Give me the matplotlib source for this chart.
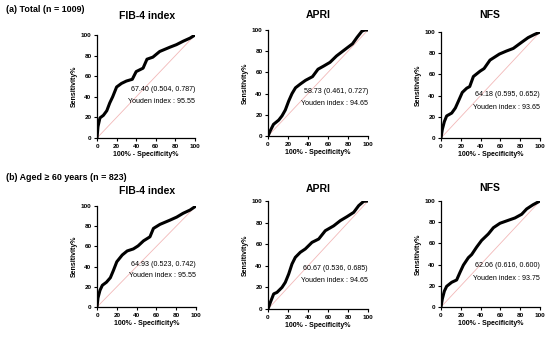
import matplotlib
matplotlib.use("Agg")
import matplotlib.pyplot as plt

plt.rcParams['font.family'] = ['Liberation Sans', 'DejaVu Sans']

# ---------------- data ----------------
fib4_total_x = [0, 1, 3, 6.5, 10, 13, 16, 20, 25, 30, 36, 40, 47, 51, 57, 64, 74.5, 81, 88, 95, 100]
fib4_total_y = [0, 11, 19.5, 22, 26.5, 34, 40, 49.5, 53, 55.3, 57, 64.5, 67.8, 76.5, 78.5, 84, 88.2, 90.6, 94, 97, 100]

apri_total_x = [0, 2.3, 5.5, 10.7, 14, 17.3, 20.7, 24, 27.5, 32.3, 37.5, 44.5, 50, 55.7, 62, 68.5, 77.5, 84.5, 89, 94, 97, 100]
apri_total_y = [0, 5, 11, 15, 19, 24.5, 33, 40, 45.5, 49, 52.5, 56, 63, 66, 69.5, 75.5, 82, 87, 93, 99, 100, 100]

nfs_total_x = [0, 1.3, 3.4, 5.7, 10.8, 14.5, 17.8, 21.5, 26, 29, 32.7, 39.4, 43.5, 49.5, 59, 66, 73, 81, 88, 94, 100]
nfs_total_y = [0, 8, 15.5, 20.8, 23.5, 28.3, 35.2, 43, 47, 48.5, 58, 63, 65.5, 73.5, 79.2, 82, 84.5, 90, 94.7, 97.5, 100]

fib4_aged_x = [0, 1, 3, 5.4, 9.5, 13.5, 16.5, 20, 25.5, 30.5, 36.7, 41.5, 47, 53.5, 57, 63.6, 73.7, 80.5, 87, 94, 100]
fib4_aged_y = [0, 9, 16.5, 21.5, 24.5, 29, 36, 44.8, 51.5, 55.5, 57.5, 60.5, 65.5, 69.5, 77.8, 81.8, 86, 89, 92.8, 96, 100]

apri_aged_x = [0, 2.3, 5.7, 9, 14, 17.3, 20.7, 24, 27.3, 32.3, 37.3, 44, 50.7, 57.3, 65.7, 72.3, 79, 85.7, 90.7, 95.7, 100]
apri_aged_y = [0, 6, 14, 15.4, 20, 24.7, 32.4, 41.7, 47.8, 52.5, 55.6, 61.7, 64.8, 72.5, 77, 81.8, 85.5, 89.5, 95.7, 99.7, 100]

nfs_aged_x = [0, 1.3, 3.4, 5.7, 10.8, 15.8, 19.2, 22.6, 27.6, 31, 36, 41, 47.8, 52.9, 59.6, 68, 74.7, 81.5, 86.5, 93, 100]
nfs_aged_y = [0, 7.5, 15, 19.5, 23.3, 25.5, 32.7, 39.5, 46.5, 49.5, 56.5, 62.8, 68.9, 74.8, 79, 81.8, 84, 87.5, 92.5, 96.5, 100]

panel_titles = ["FIB-4 index", "APRI", "NFS", "FIB-4 index", "APRI", "NFS"]
panel_auc = ["67.40 (0.504, 0.787)", "58.73 (0.461, 0.727)", "64.18 (0.595, 0.652)",
             "64.93 (0.523, 0.742)", "60.67 (0.536, 0.685)", "62.06 (0.616, 0.600)"]
panel_youden = ["Youden index : 95.55", "Youden index : 94.65", "Youden index : 93.65",
                "Youden index : 95.55", "Youden index : 94.65", "Youden index : 93.75"]
row_labels = ["(a) Total (n = 1009)", "(b) Aged \u2265 60 years (n = 823)"]
ticks = [0, 20, 40, 60, 80, 100]

curves = [(fib4_total_x, fib4_total_y), (apri_total_x, apri_total_y), (nfs_total_x, nfs_total_y),
          (fib4_aged_x, fib4_aged_y), (apri_aged_x, apri_aged_y), (nfs_aged_x, nfs_aged_y)]

# ---------------- layout (pixels) ----------------
W, H = 550, 338
boxes = [(97, 195, 35, 138), (268, 368, 30, 136), (441, 540, 32, 138),
         (97, 196, 206, 307), (268, 368, 201, 309), (441, 540, 201, 307)]
title_pos = [(147, 16), (318, 15), (490, 15), (147, 191), (318, 189), (490, 188)]
text_y = [(47.3, 35.2), (41.8, 30.2), (40.6, 29), (41.6, 30.7), (37.7, 26.2), (39.6, 27)]

fig = plt.figure(figsize=(W / 100, H / 100), dpi=100)

for i, (l, r, t, b) in enumerate(boxes):
    ax = fig.add_axes([l / W, 1 - b / H, (r - l) / W, (b - t) / H])
    x, y = curves[i]
    ax.plot([0, 100], [0, 100], color='#f2b8b8', lw=0.6, zorder=1)
    ax.plot(x, y, color='black', lw=2.2, solid_joinstyle='round', zorder=2)
    ax.set_xlim(0, 100)
    ax.set_ylim(0, 100)
    ax.set_xticks(ticks)
    ax.set_yticks(ticks)
    for s in ['top', 'right']:
        ax.spines[s].set_visible(False)
    for s in ['left', 'bottom']:
        ax.spines[s].set_linewidth(0.9)
    ax.tick_params(length=2.5, width=0.8, pad=1.5, labelsize=4.6)
    for lab in ax.get_xticklabels() + ax.get_yticklabels():
        lab.set_fontweight('bold')
    ax.set_xlabel("100% - Specificity%", fontsize=5, fontweight='bold', labelpad=2)
    ax.set_ylabel("Sensitivity%", fontsize=5, fontweight='bold', labelpad=2)
    ax.text(100, text_y[i][0], panel_auc[i], ha='right', va='center', fontsize=5.1)
    ax.text(100, text_y[i][1], panel_youden[i], ha='right', va='center', fontsize=5.1)
    tx, ty = title_pos[i]
    fig.text(tx / W, 1 - ty / H, panel_titles[i], ha='center', va='center',
             fontsize=7.5, fontweight='bold')

fig.text(6 / W, 1 - 9.5 / H, row_labels[0], ha='left', va='center', fontsize=6.4, fontweight='bold')
fig.text(6 / W, 1 - 178 / H, row_labels[1], ha='left', va='center', fontsize=6.4, fontweight='bold')

fig.savefig("out.png", dpi=100)
